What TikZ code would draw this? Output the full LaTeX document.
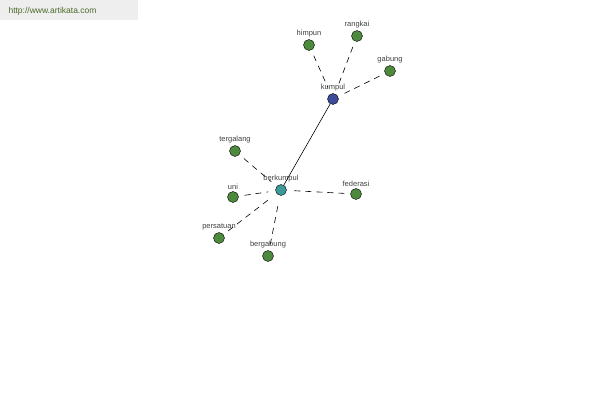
\documentclass[tikz,border=0pt]{standalone}
\usepackage{fontspec}
\setmainfont{Liberation Sans}
\usetikzlibrary{arrows.meta}
\definecolor{leafgreen}{HTML}{4E8A3E}
\definecolor{hubblue}{HTML}{3E4A9A}
\definecolor{hubteal}{HTML}{3E9A9A}
\definecolor{wmgray}{HTML}{EEEEEE}
\definecolor{wmtext}{HTML}{4A6A2A}
\begin{document}
\begin{tikzpicture}[x=1pt, y=-1pt, every node/.style={font=\fontsize{7.5}{9}\selectfont, text=black!75},
	word/.style={circle, draw=black, fill=leafgreen, minimum size=11pt, inner sep=0pt, label={[yshift=-1.5pt]above:#1}},
	link/.style={line width=0.6pt, dash pattern=on 6pt off 5pt, shorten >=7pt, shorten <=6pt}]
	\useasboundingbox (0,0) rectangle (600,400);
	\fill[wmgray] (0,0) rectangle (138,20);
	\node[anchor=west, text=wmtext, font=\fontsize{8.5}{10}\selectfont] (site) at (5,11) {http://www.artikata.com};
	% hubs
	\node[word=kumpul, fill=hubblue] (kumpul) at (333,99) {};
	\node[word=berkumpul, fill=hubteal] (berkumpul) at (281,190) {};
	% leaves
	\foreach \n/\x/\y in {himpun/309/45, rangkai/357/36, gabung/390/71} {
		\node[word=\n] (\n) at (\x,\y) {};
		\draw[link] (\n) -- (kumpul);
	}
	\foreach \n/\x/\y in {tergalang/235/151, uni/233/197, persatuan/219/238, bergabung/268/256, federasi/356/194} {
		\node[word=\n] (\n) at (\x,\y) {};
		\draw[link] (\n) -- (berkumpul);
	}
	\draw[line width=0.6pt] (kumpul) -- (berkumpul);
\end{tikzpicture}
\end{document}
